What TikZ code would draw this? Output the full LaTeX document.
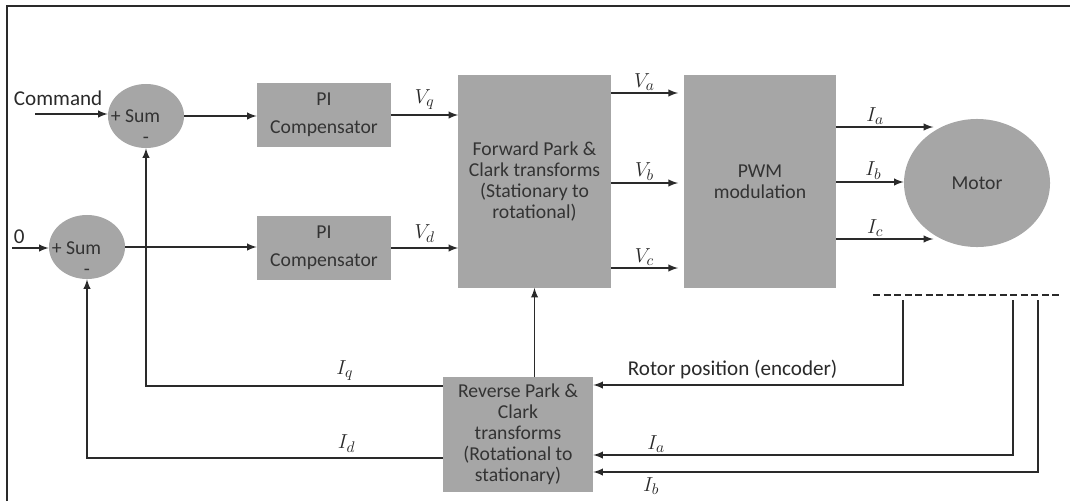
\documentclass[tikz,border=0pt]{standalone}
\usepackage{fontspec}
\setmainfont{Carlito}
\usepackage{tikz}
\usetikzlibrary{calc,shapes,arrows}

\definecolor{boxgray}{HTML}{A6A6A6}
\definecolor{txtgray}{HTML}{333333}
\definecolor{linegray}{HTML}{2A2A2A}

\begin{document}
\begin{tikzpicture}[x=0.025cm,y=-0.025cm,
        blk/.style={fill=boxgray,text=txtgray,align=center,inner sep=0pt,
            font=\fontsize{14}{15}\selectfont},
        sig/.style={-latex,draw=linegray,line width=1.35pt},
        lab/.style={text=linegray,font=\fontsize{15}{17}\selectfont}]
        \useasboundingbox (0,0) rectangle (1070,501);
        % frame
        \draw[linegray,line width=0.8pt] (7,501) -- (7,6) -- (1070,6);

        % blocks
        \node[blk,ellipse,minimum width=1.9cm,minimum height=1.6cm] (sum1) at (146,116) {};
        \node[blk,ellipse,minimum width=1.9cm,minimum height=1.6cm] (sum2) at (87,247) {};
        \node[blk,minimum width=3.35cm,minimum height=1.6cm] (pi1) at (324,115) {PI\\[5pt]Compensator};
        \node[blk,minimum width=3.35cm,minimum height=1.6cm] (pi2) at (324,248) {PI\\[5pt]Compensator};
        \node[blk,minimum width=3.8cm,minimum height=5.3cm] (fwd) at (534.5,181.5)
            {Forward Park \&\\Clark transforms\\(Stationary to\\rotational)};
        \node[blk,minimum width=3.8cm,minimum height=5.3cm] (pwm) at (760,181.5) {PWM\\modulation};
        \node[blk,ellipse,minimum width=3.65cm,minimum height=3.2cm] (motor) at (977,183) {Motor};
        \node[blk,minimum width=3.75cm,minimum height=2.85cm] (rev) at (518,434.5)
            {Reverse Park \&\\Clark\\transforms\\(Rotational to\\stationary)};

        % sum signs
        \node[blk,fill=none,anchor=west] (plus1) at ([xshift=2]sum1.west) {+ Sum};
        \node[blk,fill=none] (minus1) at (146,140) {-};
        \node[blk,fill=none,anchor=west] (plus2) at ([xshift=2,yshift=-1]sum2.west) {+ Sum};
        \node[blk,fill=none] (minus2) at (87,272) {-};

        % inputs
        \node[lab,anchor=west] (cmd) at (9,98) {Command};
        \node[lab,anchor=west] (zero) at (9,237) {0};
        \coordinate (cmdin) at (35,114);
        \coordinate (zeroin) at (12,248);
        \draw[sig] (cmdin) -- (cmdin -| sum1.west);
        \draw[sig] (zeroin) -- (zeroin -| sum2.west);

        % forward path
        \draw[sig] (sum1.east) -- (sum1.east -| pi1.west);
        \draw[sig] (sum2.east) -- (sum2.east -| pi2.west);
        \draw[sig] (pi1.east) -- (pi1.east -| fwd.west) node[lab,midway,above] {$V_q$};
        \draw[sig] (pi2.east) -- (pi2.east -| fwd.west) node[lab,midway,above] {$V_d$};

        \coordinate (ya) at (0,93);
        \coordinate (yb) at (0,183);
        \coordinate (yc) at (0,268);
        \draw[sig] (fwd.east |- ya) -- ([xshift=-4]pwm.west |- ya) node[lab,midway,above,inner sep=1pt] {$V_a$};
        \draw[sig] (fwd.east |- yb) -- ([xshift=-4]pwm.west |- yb) node[lab,midway,above,inner sep=1pt] {$V_b$};
        \draw[sig] (fwd.east |- yc) -- ([xshift=-4]pwm.west |- yc) node[lab,midway,above,inner sep=1pt] {$V_c$};

        \coordinate (ia) at (0,127);
        \coordinate (ib) at (0,182);
        \coordinate (ic) at (0,239);
        \draw[sig] (pwm.east |- ia) -- ++(97,0) node[lab,pos=0.4,above,inner sep=1pt] {$I_a$};
        \draw[sig] (pwm.east |- ib) -- (motor.west |- ib) node[lab,pos=0.55,above,inner sep=1pt] {$I_b$};
        \draw[sig] (pwm.east |- ic) -- ++(97,0) node[lab,pos=0.4,above,inner sep=1pt] {$I_c$};

        % sensors
        \draw[linegray,line width=1.35pt,dash pattern=on 5pt off 2.5pt] (873,295) coordinate (dl) -- (1062,295) coordinate (dr);
        \coordinate (enc) at (903,300);
        \coordinate (sa) at (1013,300);
        \coordinate (sb) at (1038,300);
        \coordinate (yenc) at (0,385);
        \coordinate (ysa) at (0,455);
        \coordinate (ysb) at (0,472);
        \coordinate (yiq) at (0,386);
        \coordinate (yid) at (0,458);
        \draw[sig] (enc) -- (enc |- yenc) -- (rev.east |- yenc)
            node[lab,pos=0.55,above] {Rotor position (encoder)};
        \draw[sig] (sa) -- (sa |- ysa) -- (rev.east |- ysa)
            node[lab,pos=0.85,above,inner sep=1pt] {$I_a$};
        \draw[sig] (sb) -- (sb |- ysb) -- (rev.east |- ysb)
            node[lab,pos=0.87,below,inner sep=3pt] {$I_b$};

        % feedback
        \draw[sig] (rev.north -| fwd.south) -- (fwd.south);
        \draw[sig] (rev.west |- yiq) -- (sum1.south |- yiq)
            node[lab,pos=0.33,above] {$I_q$} -- (sum1.south);
        \draw[sig] (rev.west |- yid) -- (sum2.south |- yid)
            node[lab,pos=0.27,above] {$I_d$} -- (sum2.south);
    \end{tikzpicture}
\end{document}
